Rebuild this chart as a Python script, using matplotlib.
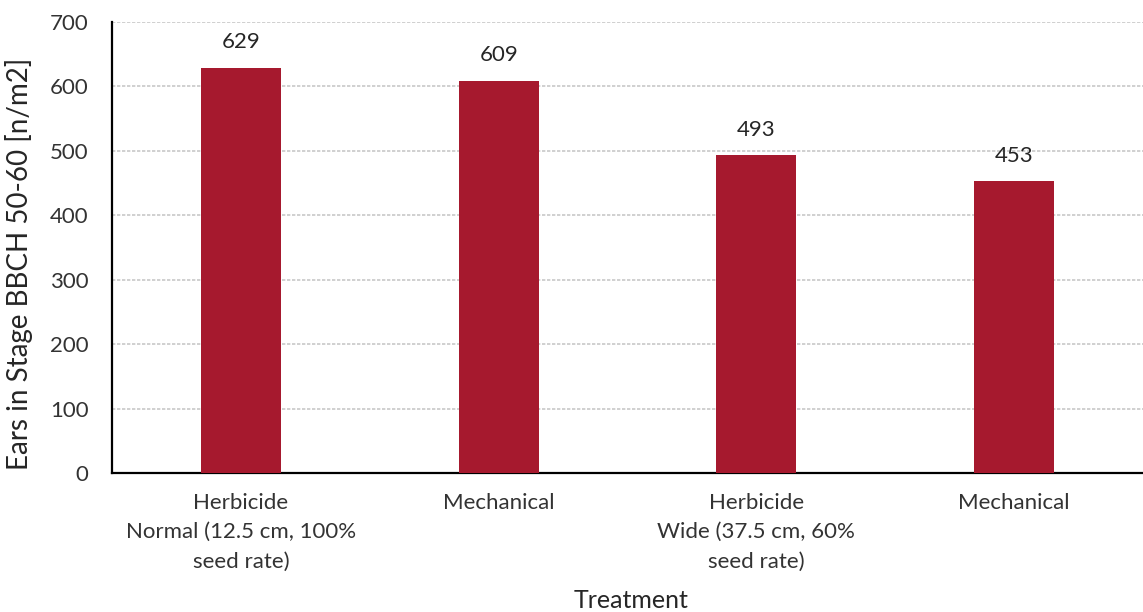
import matplotlib.pyplot as plt
import numpy as np

plt.rcParams['font.family'] = ['Lato', 'DejaVu Sans']

labels = ['Herbicide\nNormal (12.5 cm, 100%\nseed rate)', 'Mechanical',
          'Herbicide\nWide (37.5 cm, 60%\nseed rate)', 'Mechanical']
ears = [629, 609, 493, 453]

fig = plt.figure(figsize=(11.43, 6.12), dpi=100)
ax = fig.add_axes([0.098, 0.227, 0.902, 0.737])

x = np.arange(len(ears))
bars = ax.bar(x, ears, width=0.31, color='#A6192E', zorder=3)
for b, v in zip(bars, ears):
    ax.text(b.get_x() + b.get_width() / 2, v + 24, str(v), ha='center', va='bottom',
            fontsize=16, color='#262626')

ax.set_xlim(-0.5, 3.5)
ax.set_ylim(0, 700)
ax.set_yticks(np.arange(0, 701, 100))
ax.set_xticks(x)
ax.set_xticklabels(labels, fontsize=16, color='#333333', linespacing=1.6)
ax.tick_params(axis='both', length=0, labelsize=16, labelcolor='#333333')
ax.tick_params(axis='x', pad=14)
ax.tick_params(axis='y', pad=17)

ax.yaxis.grid(True, color='#c8c8c8', linestyle=(0, (2, 1)), linewidth=1.2, zorder=0)
for s in ['top', 'right']:
    ax.spines[s].set_visible(False)
ax.spines['left'].set_linewidth(1.6)
ax.spines['bottom'].set_linewidth(1.6)

ax.set_xlabel('Treatment', fontsize=18, color='#262626')
ax.set_ylabel('Ears in Stage BBCH 50-60 [n/m2]', fontsize=20, color='#262626')
ax.xaxis.set_label_coords(0.503, -0.257)
ax.yaxis.set_label_coords(-0.077, 0.463)

plt.savefig('out.png')
